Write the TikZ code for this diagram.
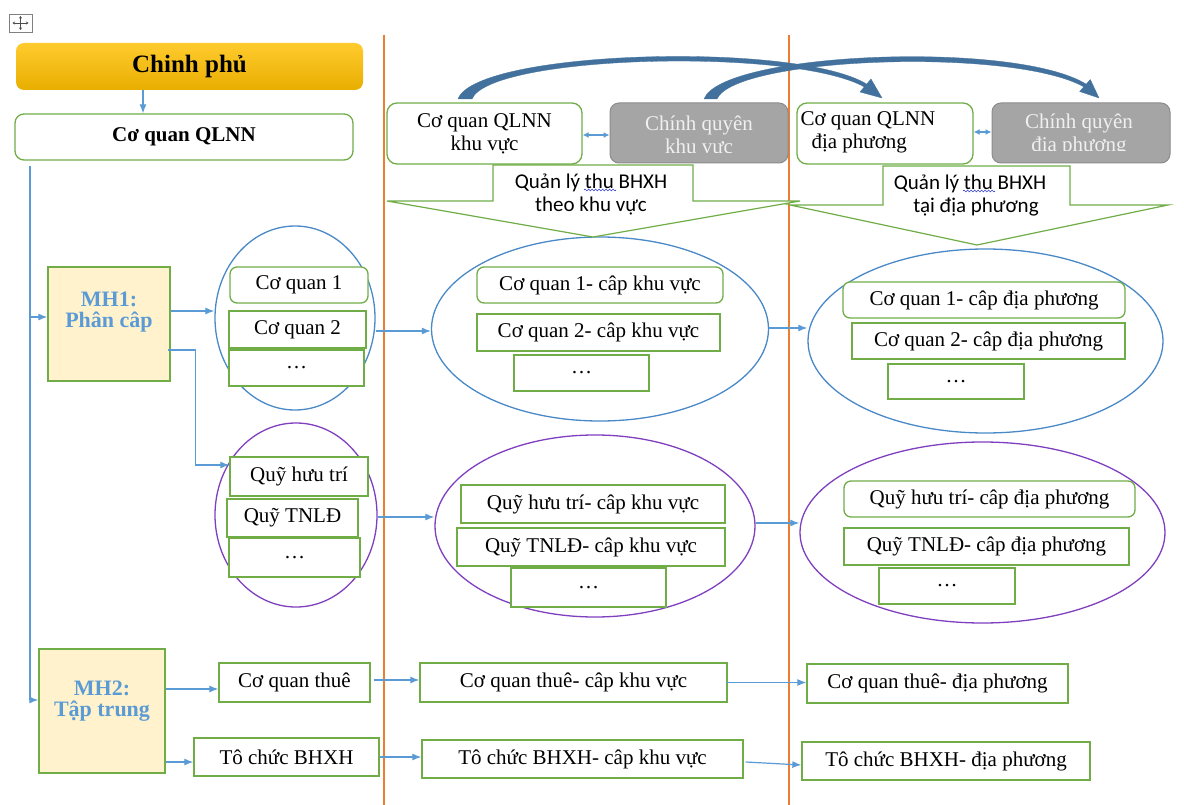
\documentclass[tikz,border=0pt]{standalone}
\usepackage{fontspec}
\setmainfont{Liberation Serif}
\newfontfamily\calibrifont{Carlito}
\usetikzlibrary{arrows.meta,shapes.geometric,calc,decorations.pathmorphing}

\definecolor{grn}{HTML}{70AD47}
\definecolor{arrblue}{HTML}{5B9BD5}
\definecolor{ellblue}{HTML}{4A89C8}
\definecolor{purp}{HTML}{7F3FBF}
\definecolor{orng}{HTML}{ED7D31}
\definecolor{gold1}{HTML}{FFCB2E}
\definecolor{gold2}{HTML}{E8AE00}
\definecolor{paleyel}{HTML}{FFF2CC}
\definecolor{mhblue}{HTML}{5B9BD5}
\definecolor{grayfill}{HTML}{A5A5A5}
\definecolor{grayline}{HTML}{8C8C8C}
\definecolor{graytext}{HTML}{F0F0F0}
\definecolor{curvblue}{HTML}{41719C}
\definecolor{squig}{HTML}{3340D0}

\newcommand\bodysize{\fontsize{21}{23}\selectfont}

\begin{document}
\begin{tikzpicture}[x=1pt,y=-1pt,
  gbox/.style={draw=grn, line width=1.3pt, fill=white, inner sep=0pt, font=\bodysize, align=center},
  rbox/.style={gbox, rounded corners=7pt},
  sz/.style 2 args={minimum width=#1pt, minimum height=#2pt},
  ell/.style={ellipse, draw=#1, line width=1.3pt, inner sep=0pt},
  gybox/.style={draw=grayline, fill=grayfill, rounded corners=9pt, line width=1pt, inner sep=0pt},
  graytxt/.style={font=\bodysize, text=graytext, align=center, inner sep=0pt},
  mhtxt/.style={font=\fontsize{22}{21}\selectfont\bfseries, text=mhblue, align=center, inner sep=0pt},
  callout/.style={draw=grn, line width=1.2pt, fill=white, line join=miter},
  callouttxt/.style={font=\calibrifont\fontsize{21}{23}\selectfont, align=center, inner sep=0pt},
  arr/.style={draw=arrblue, line width=1.2pt, -{Latex[length=9pt,width=7pt]}},
  dbl/.style={draw=arrblue, line width=1.2pt, {Latex[length=6pt,width=6pt]}-{Latex[length=6pt,width=6pt]}},
  divider/.style={draw=orng, line width=1.4pt},
  squiggle/.style={draw=squig, line width=0.6pt, decorate, decoration={snake, amplitude=0.9pt, segment length=3.5pt}},
  curvearrow/.style={fill=curvblue, draw=curvblue, line width=0.3pt, line join=round}
]
% canvas
\fill[white] (0,0) rectangle (1184,805);
\useasboundingbox (0,0) rectangle (1184,805);

% column dividers
\coordinate (d1top) at (384,35);
\coordinate (d1bot) at (384,805);
\coordinate (d2top) at (789,35);
\coordinate (d2bot) at (789,805);
\draw[divider] (d1top) -- (d1bot);
\draw[divider] (d2top) -- (d2bot);

% grouping ellipses
\node[ell=ellblue, sz={160}{184}] (e1) at (295,318) {};
\node[ell=ellblue, sz={337}{184}] (e2) at (600,329) {};
\node[ell=ellblue, sz={355}{184}] (e3) at (985.5,341) {};
\node[ell=purp, sz={162}{184}] (p1) at (296,515) {};
\node[ell=purp, sz={320}{182}] (p2) at (595,526) {};
\node[ell=purp, sz={365}{181}] (p3) at (982.5,532.5) {};

% down-pointing callouts
\draw[callout] (493,165) -- (693,165) -- (693,201) -- (800,201) -- (593,237) -- (387,201) -- (493,201) -- cycle;
\draw[callout] (883,166) -- (1070,166) -- (1070,205) -- (1168,205) -- (977,245) -- (790,205) -- (883,205) -- cycle;
\node[callouttxt] (ct1) at (591,194) {Quản lý thu BHXH\\theo khu vực};
\node[callouttxt] (ct2) at (970,196) {Quản lý thu BHXH\\\hspace*{12pt}tại địa phương};
\draw[squiggle] ($(ct1)+(-7,-4)$) -- ($(ct1)+(25,-4)$);
\draw[squiggle] ($(ct2)+(-7,-5)$) -- ($(ct2)+(25,-5)$);

% left column
\node[rounded corners=8pt, top color=gold1, bottom color=gold2, sz={347}{47}, inner sep=0pt,
      font=\fontsize{25}{28}\selectfont\bfseries] (chinhphu) at (189.5,66.5) {Chinh phủ};
\node[rbox, rounded corners=9pt, sz={338}{46}, font=\bodysize\bfseries] (qlnn) at (184,137) {Cơ quan QLNN};

\node[gbox, fill=paleyel, sz={122}{114}] (mh1) at (109,324) {};
\node[mhtxt] (mh1t) at (109,312) {MH1:\\Phân câp};
\node[gbox, fill=paleyel, sz={126}{124}] (mh2) at (102,711) {};
\node[mhtxt] (mh2t) at (102,701) {MH2:\\Tập trung};

\node[rbox, sz={138}{36}] (co1) at (299,285) {Cơ quan 1};
\node[gbox, sz={137}{37}] (co2) at (297.5,329.5) {Cơ quan 2};
\node[gbox, sz={135}{36}] (co3) at (296.5,368) {…};
\node[gbox, sz={138}{39}] (q1) at (299,476.5) {Quỹ hưu trí};
\node[gbox, sz={131}{38}] (q2) at (292.5,518) {Quỹ TNLĐ};
\node[gbox, sz={131}{39}] (q3) at (294.5,557.5) {…};
\node[gbox, sz={151}{39}] (thue) at (294.5,682.5) {Cơ quan thuê};
\node[gbox, sz={185}{38}] (tochuc) at (286.5,757) {Tô chức BHXH};

% regional column
\node[rbox, rounded corners=10pt, sz={195}{61}] (kvql) at (484.5,133.5) {Cơ quan QLNN\\khu vực};
\node[gybox, sz={178}{60}] (kvcq) at (699,133) {};
\begin{scope}
  \clip (610,103) rectangle (788,153);
  \node[graytxt] (kvcqt) at (699,136) {Chính quyên\\khu vực};
\end{scope}
\node[rbox, sz={246}{36}] (k1) at (600,285) {Cơ quan 1- câp khu vực};
\node[gbox, sz={243}{37}] (k2) at (598.5,332.5) {Cơ quan 2- câp khu vực};
\node[gbox, sz={135}{36}] (k3) at (581.5,373) {…};
\node[gbox, sz={264}{38}] (kq1) at (593,504) {Quỹ hưu trí- câp khu vực};
\node[gbox, sz={268}{38}] (kq2) at (591,547) {Quỹ TNLĐ- câp khu vực};
\node[gbox, sz={155}{39}] (kq3) at (588.5,587.5) {…};
\node[gbox, sz={307}{39}] (kt1) at (573.5,682.5) {Cơ quan thuê- câp khu vực};
\node[gbox, sz={321}{38}] (kt2) at (582.5,759) {Tô chức BHXH- câp khu vực};

% local column
\node[rbox, rounded corners=10pt, sz={176}{61}] (dpql) at (885,133.5) {};
\node[font=\bodysize, align=left, anchor=west, inner sep=0pt] (dpqlt) at ([xshift=4pt,yshift=1pt]dpql.west) {Cơ quan QLNN\\\hspace*{11pt}địa phương};
\node[gybox, sz={178}{60}] (dpcq) at (1081,133) {};
\begin{scope}
  \clip (992,103) rectangle (1170,151);
  \node[graytxt] (dpcqt) at (1079,135) {Chính quyên\\địa phương};
\end{scope}
\node[rbox, sz={282}{36}] (d1) at (984,300) {Cơ quan 1- câp địa phương};
\node[gbox, sz={273}{36}] (d2) at (988.5,341) {Cơ quan 2- câp địa phương};
\node[gbox, sz={136}{35}] (d3) at (956,381.5) {…};
\node[rbox, sz={291}{36}] (dq1) at (989.5,499) {Quỹ hưu trí- câp địa phương};
\node[gbox, sz={285}{37}] (dq2) at (986.5,546.5) {Quỹ TNLĐ- câp địa phương};
\node[gbox, sz={136}{36}] (dq3) at (947,586) {…};
\node[gbox, sz={261}{39}] (dt1) at (937.5,683.5) {Cơ quan thuê- địa phương};
\node[gbox, sz={288}{38}] (dt2) at (946,761) {Tô chức BHXH- địa phương};

% connectors
\draw[arr] ([xshift=-46.5pt]chinhphu.south) -- ([xshift=-46.5pt]chinhphu.south |- qlnn.north);
\coordinate (trunk) at ([xshift=-154pt,yshift=-5pt]qlnn.south);
\draw[arr] (trunk) |- ([yshift=11pt]mh2.west);
\draw[arr] ([yshift=7pt]mh1.west -| trunk) -- ([yshift=7pt]mh1.west);
\draw[arr] ([yshift=13pt]mh1.east) -- ([yshift=13pt]mh1.east -| e1.west);
\draw[arr] ([xshift=-3pt,yshift=-26pt]mh1.east) -- ++(28,0) |- ([yshift=11.5pt]q1.west);
\draw[arr] ([yshift=-13pt]e1.east) -- ([yshift=-13pt]e1.east -| e2.west);
\draw[arr] ([yshift=1pt]e2.east) -- ([yshift=1pt]e2.east -| e3.west);
\draw[arr] ([yshift=-2pt]p1.east) -- ([yshift=-2pt]p1.east -| p2.west);
\draw[arr] ([yshift=3pt]p2.east) -- ([yshift=3pt]p2.east -| p3.west);
\draw[arr] ([yshift=-6.5pt]thue.west -| mh2.east) -- ([yshift=-6.5pt]thue.west);
\draw[arr] ([yshift=-5pt]tochuc.west -| mh2.east) -- ([yshift=-5pt]tochuc.west);
\draw[arr] ([xshift=3pt,yshift=2.5pt]thue.east) -- ([yshift=2.5pt]thue.east -| kt1.west);
\draw[arr] (tochuc.east) -- (tochuc.east -| kt2.west);
\draw[arr] ([xshift=-2pt]kt1.east) -- (kt1.east -| dt1.west);
\draw[arr] ([xshift=2pt,yshift=-3pt]kt2.east) -- ([yshift=-4pt]dt2.west);
\draw[dbl] ([yshift=-1.5pt]kvql.east) -- ([yshift=-1.5pt]kvql.east -| kvcq.west);
\draw[dbl] ([yshift=1.5pt]dpql.east) -- ([yshift=1.5pt]dpql.east -| dpcq.west);

% curved block arrows between the regional and local levels
\fill[curvearrow] (458,99) .. controls (476,50) and (796,41) .. (866.7,84.1)
   -- (871,79) -- (882,98) -- (860,92) -- (864.3,86.9)
   .. controls (792,47) and (490,55) .. (472,99) -- cycle;
\fill[curvearrow] (704,99) .. controls (722,52) and (1015,40) .. (1086.2,84.2)
   -- (1090.3,79.5) -- (1099,98) -- (1079.7,91.5) -- (1083.8,86.8)
   .. controls (1012,47) and (735,57) .. (717,99) -- cycle;

% table move handle
\node[draw=gray, line width=0.8pt, minimum width=23pt, minimum height=18pt, inner sep=0pt] (mvh) at (20.5,23) {};
\draw[line width=0.7pt, draw=black!70, {Stealth[length=2.5pt,width=3pt]}-{Stealth[length=2.5pt,width=3pt]}]
  ([yshift=7pt]mvh.center) -- ([yshift=-7pt]mvh.center);
\draw[line width=0.7pt, draw=black!70, {Stealth[length=2.5pt,width=3pt]}-{Stealth[length=2.5pt,width=3pt]}]
  ([xshift=-8pt]mvh.center) -- ([xshift=8pt]mvh.center);
\end{tikzpicture}
\end{document}
